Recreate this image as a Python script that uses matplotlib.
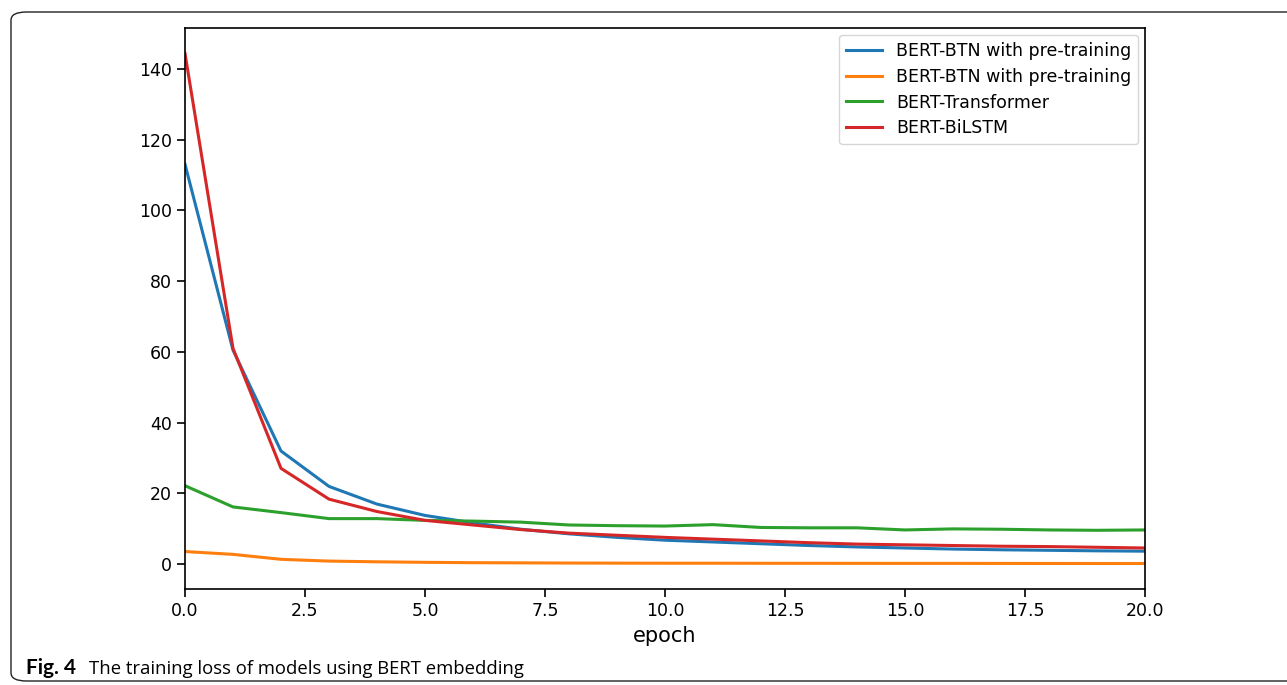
import matplotlib.pyplot as plt
from matplotlib.patches import FancyBboxPatch

epochs = list(range(21))

btn_pre = [113, 60.5, 32, 22, 17, 13.8, 11.7, 9.9, 8.6, 7.6, 6.8, 6.3, 5.8, 5.3, 4.9, 4.6, 4.3, 4.1, 3.95, 3.8, 3.7]
btn_pre2 = [3.6, 2.8, 1.4, 0.9, 0.7, 0.55, 0.45, 0.4, 0.35, 0.32, 0.3, 0.3, 0.28, 0.27, 0.26, 0.25, 0.25, 0.24, 0.23, 0.22, 0.22]
transformer = [22.2, 16.2, 14.6, 12.9, 12.9, 12.4, 12.2, 11.9, 11.1, 10.9, 10.8, 11.2, 10.4, 10.3, 10.3, 9.7, 10.0, 9.9, 9.7, 9.6, 9.7]
bilstm = [144.3, 61, 27.1, 18.4, 14.9, 12.4, 11.1, 9.8, 8.8, 8.2, 7.6, 7.1, 6.6, 6.1, 5.7, 5.5, 5.3, 5.1, 5.0, 4.8, 4.6]

labels = ['BERT-BTN with pre-training', 'BERT-BTN with pre-training',
          'BERT-Transformer', 'BERT-BiLSTM']

fig = plt.figure(figsize=(12.87, 6.85), dpi=100)

# rounded frame round the figure (as in the journal layout)
frame = FancyBboxPatch((11 / 1287, 4 / 685), 1.2, 1 - 16 / 685,
                       boxstyle='round,pad=0,rounding_size=0.012',
                       transform=fig.transFigure, fill=False,
                       edgecolor='#222222', linewidth=1.0)
fig.patches.append(frame)

ax = fig.add_axes([185 / 1287, 1 - 589 / 685, 960 / 1287, 561 / 685])
ax.plot(epochs, btn_pre, color='#1f77b4', lw=2.2, label=labels[0])
ax.plot(epochs, btn_pre2, color='#ff7f0e', lw=2.2, label=labels[1])
ax.plot(epochs, transformer, color='#2ca02c', lw=2.2, label=labels[2])
ax.plot(epochs, bilstm, color='#d62728', lw=2.2, label=labels[3])

ax.set_xlim(0, 20)
ax.set_xticks([0, 2.5, 5, 7.5, 10, 12.5, 15, 17.5, 20])
ax.set_xticklabels(['0.0', '2.5', '5.0', '7.5', '10.0', '12.5', '15.0', '17.5', '20.0'])
ax.set_yticks([0, 20, 40, 60, 80, 100, 120, 140])
ax.tick_params(labelsize=12.5, length=6, width=1.2)
for s in ax.spines.values():
    s.set_linewidth(1.2)
ax.set_xlabel('epoch', fontsize=15)

ax.legend(loc='upper right', fontsize=12.5, handlelength=2.05,
          borderaxespad=0.4, labelspacing=0.45)

fig.text(26 / 1287, 1 - 674 / 685, 'Fig. 4', fontsize=15, fontweight='bold',
         family='Lato', ha='left', va='baseline')
fig.text(89 / 1287, 1 - 674 / 685, 'The training loss of models using BERT embedding',
         fontsize=13.3, family='Open Sans', ha='left', va='baseline')

fig.savefig('out.png', dpi=100)
